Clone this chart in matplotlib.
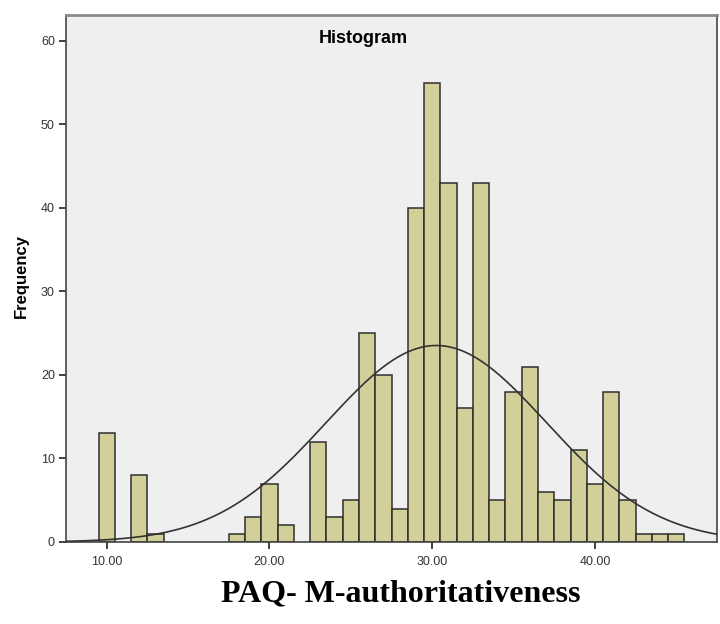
import numpy as np
import matplotlib.pyplot as plt

# histogram counts per integer score (bin width 1)
scores = [10, 12, 13, 18, 19, 20, 21, 23, 24, 25, 26, 27, 28, 29, 30,
          31, 32, 33, 34, 35, 36, 37, 38, 39, 40, 41, 42, 43, 44, 45]
counts = [13, 8, 1, 1, 3, 7, 2, 12, 3, 5, 25, 20, 4, 40, 55,
          43, 16, 43, 5, 18, 21, 6, 5, 11, 7, 18, 5, 1, 1, 1]
xticks = [10, 20, 30, 40]
yticks = [0, 10, 20, 30, 40, 50, 60]

x = np.array(scores, dtype=float)
c = np.array(counts, dtype=float)
n = c.sum()
mean = (x * c).sum() / n
sd = np.sqrt((c * (x - mean) ** 2).sum() / (n - 1))

fig = plt.figure(figsize=(7.2, 6.24), dpi=100)
ax = fig.add_axes([66/720, 82/624, (717-66)/720, (542-15)/624])
ax.set_facecolor('#efefef')

ax.bar(x, c, width=1.0, color='#d3cf98', edgecolor='#2e2e2e', linewidth=1.1, zorder=2)

# normal curve from the data's mean and sd
xlim = (7.5, 47.5)
xs = np.linspace(xlim[0], xlim[1], 400)
ys = n * 1.0 / (sd * np.sqrt(2 * np.pi)) * np.exp(-0.5 * ((xs - mean) / sd) ** 2)
ax.plot(xs, ys, color='#333333', linewidth=1.2, zorder=3)

ax.set_xlim(*xlim)
ax.set_ylim(0, 63.1)
ax.set_xticks(xticks)
ax.set_xticklabels(['%.2f' % t for t in xticks])
ax.set_yticks(yticks)
ax.tick_params(direction='out', length=5, width=1.3, color='#333333',
               labelsize=9, labelcolor='#333333', pad=3)
ax.tick_params(axis='x', pad=5)
for t in ax.get_xticklabels() + ax.get_yticklabels():
    t.set_family('Liberation Sans')

for s in ['left', 'bottom', 'right']:
    ax.spines[s].set_color('#444444')
    ax.spines[s].set_linewidth(1.2)
ax.spines['top'].set_color('#8a8a8a')
ax.spines['top'].set_linewidth(2.0)

ax.text(0.457, 0.955, 'Histogram', transform=ax.transAxes, ha='center', va='center',
        fontsize=13, fontweight='bold', family='Liberation Sans')
fig.text(21/720, (624-276)/624, 'Frequency', rotation=90, ha='center', va='center',
         fontsize=12, fontweight='bold', family='Liberation Sans')

fig.text(401/720, (624-594)/624, 'PAQ- M-authoritativeness', ha='center', va='center',
         fontsize=23, fontweight='bold', family='Liberation Serif')

fig.savefig('out.png', dpi=100)
